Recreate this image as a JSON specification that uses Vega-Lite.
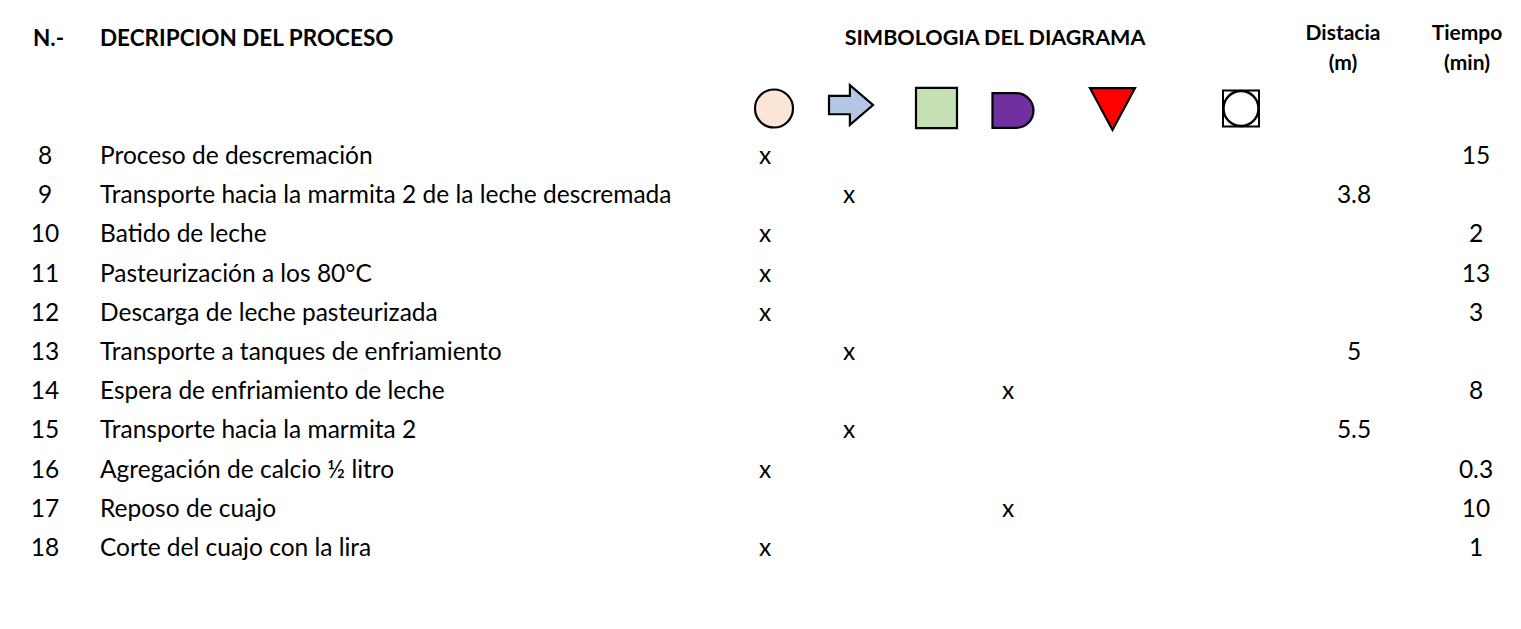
{
  "$schema": "https://vega.github.io/schema/vega-lite/v6.json",
  "width": 1521,
  "height": 629,
  "padding": 0,
  "autosize": {"type": "fit", "contains": "padding"},
  "background": "white",
  "config": {"view": {"stroke": null}, "text": {"font": "Lato", "fontSize": 24.5, "color": "#000000"}},
  "datasets": {
    "filas": [
      {"n": 8, "desc": "Proceso de descremación", "simbolo": "Operación", "dist": null, "tiempo": 15},
      {"n": 9, "desc": "Transporte hacia la marmita 2 de la leche descremada", "simbolo": "Transporte", "dist": 3.8, "tiempo": null},
      {"n": 10, "desc": "Batido de leche", "simbolo": "Operación", "dist": null, "tiempo": 2},
      {"n": 11, "desc": "Pasteurización a los 80°C", "simbolo": "Operación", "dist": null, "tiempo": 13},
      {"n": 12, "desc": "Descarga  de leche pasteurizada", "simbolo": "Operación", "dist": null, "tiempo": 3},
      {"n": 13, "desc": "Transporte a tanques de enfriamiento", "simbolo": "Transporte", "dist": 5, "tiempo": null},
      {"n": 14, "desc": "Espera de enfriamiento de leche", "simbolo": "Demora", "dist": null, "tiempo": 8},
      {"n": 15, "desc": "Transporte hacia la marmita 2", "simbolo": "Transporte", "dist": 5.5, "tiempo": null},
      {"n": 16, "desc": "Agregación de calcio ½ litro", "simbolo": "Operación", "dist": null, "tiempo": 0.3},
      {"n": 17, "desc": "Reposo de cuajo", "simbolo": "Demora", "dist": null, "tiempo": 10},
      {"n": 18, "desc": "Corte del cuajo con la lira", "simbolo": "Operación", "dist": null, "tiempo": 1}
    ],
    "uno": [{"k": 1}]
  },
  "data": {"name": "filas"},
  "encoding": {
    "x": {"type": "quantitative", "scale": {"domain": [0, 1521], "nice": false, "zero": false}, "axis": null},
    "y": {"type": "quantitative", "scale": {"domain": [3.995, 20.04], "nice": false, "zero": false, "reverse": true}, "axis": null}
  },
  "layer": [
    {"data": {"name": "uno"}, "mark": {"type": "text", "text": "N.-", "fontWeight": "bold", "fontSize": 22.5, "align": "left", "baseline": "middle"},
     "encoding": {"x": {"datum": 33, "type": "quantitative"}, "y": {"datum": 4.99, "type": "quantitative"}}},
    {"data": {"name": "uno"}, "mark": {"type": "text", "text": "DECRIPCION DEL PROCESO", "fontWeight": "bold", "fontSize": 22.5, "align": "left", "baseline": "middle"},
     "encoding": {"x": {"datum": 100, "type": "quantitative"}, "y": {"datum": 4.99, "type": "quantitative"}}},
    {"data": {"name": "uno"}, "mark": {"type": "text", "text": "SIMBOLOGIA DEL DIAGRAMA", "fontWeight": "bold", "fontSize": 21.5, "align": "center", "baseline": "middle"},
     "encoding": {"x": {"datum": 995, "type": "quantitative"}, "y": {"datum": 4.99, "type": "quantitative"}}},
    {"data": {"name": "uno"}, "mark": {"type": "text", "text": ["Distacia", "(m)"], "lineHeight": 30, "fontWeight": "bold", "fontSize": 21, "align": "center", "baseline": "middle"},
     "encoding": {"x": {"datum": 1343, "type": "quantitative"}, "y": {"datum": 4.86, "type": "quantitative"}}},
    {"data": {"name": "uno"}, "mark": {"type": "text", "text": ["Tiempo", "(min)"], "lineHeight": 30, "fontWeight": "bold", "fontSize": 21, "align": "center", "baseline": "middle"},
     "encoding": {"x": {"datum": 1467, "type": "quantitative"}, "y": {"datum": 4.86, "type": "quantitative"}}},

    {"data": {"name": "uno"}, "mark": {"type": "point", "shape": "circle", "filled": true, "fill": "#FBE5D6", "stroke": "#000000", "strokeWidth": 2.2, "size": 1444, "opacity": 1},
     "encoding": {"x": {"datum": 774, "type": "quantitative"}, "y": {"datum": 6.763, "type": "quantitative"}}},
    {"data": {"name": "uno"}, "mark": {"type": "point", "shape": "M-1,-0.42L-0.05,-0.42L-0.05,-0.9L1,0L-0.05,0.9L-0.05,0.42L-1,0.42Z", "filled": true, "fill": "#B4C7E7", "stroke": "#000000", "strokeWidth": 2.2, "size": 1936, "opacity": 1},
     "encoding": {"x": {"datum": 851, "type": "quantitative"}, "y": {"datum": 6.674, "type": "quantitative"}}},
    {"data": {"name": "uno"}, "mark": {"type": "point", "shape": "M-1,-0.98L1,-0.98L1,0.98L-1,0.98Z", "filled": true, "fill": "#C5E0B4", "stroke": "#000000", "strokeWidth": 2.2, "size": 1681, "opacity": 1},
     "encoding": {"x": {"datum": 936.5, "type": "quantitative"}, "y": {"datum": 6.75, "type": "quantitative"}}},
    {"data": {"name": "uno"}, "mark": {"type": "point", "shape": "M-1,-0.85L0.15,-0.85A0.85,0.85 0 0 1 0.15,0.85L-1,0.85Z", "filled": true, "fill": "#7030A0", "stroke": "#000000", "strokeWidth": 2.2, "size": 1681, "opacity": 1},
     "encoding": {"x": {"datum": 1013, "type": "quantitative"}, "y": {"datum": 6.814, "type": "quantitative"}}},
    {"data": {"name": "uno"}, "mark": {"type": "point", "shape": "M-1,-0.93L1,-0.93L0,0.93Z", "filled": true, "fill": "#FF0000", "stroke": "#000000", "strokeWidth": 2.2, "size": 2025, "opacity": 1},
     "encoding": {"x": {"datum": 1112.5, "type": "quantitative"}, "y": {"datum": 6.776, "type": "quantitative"}}},
    {"data": {"name": "uno"}, "mark": {"type": "point", "shape": "M-1,-1L1,-1L1,1L-1,1Z", "filled": false, "stroke": "#000000", "strokeWidth": 2, "size": 1296, "opacity": 1},
     "encoding": {"x": {"datum": 1241, "type": "quantitative"}, "y": {"datum": 6.763, "type": "quantitative"}}},
    {"data": {"name": "uno"}, "mark": {"type": "point", "shape": "circle", "filled": true, "fill": "#FFFFFF", "stroke": "#000000", "strokeWidth": 2.4, "size": 1225, "opacity": 1},
     "encoding": {"x": {"datum": 1241, "type": "quantitative"}, "y": {"datum": 6.763, "type": "quantitative"}}},

    {"mark": {"type": "text", "align": "center", "baseline": "middle"},
     "encoding": {"x": {"datum": 45, "type": "quantitative"}, "y": {"field": "n"}, "text": {"field": "n", "type": "quantitative"}}},
    {"mark": {"type": "text", "align": "left", "baseline": "middle"},
     "encoding": {"x": {"datum": 100, "type": "quantitative"}, "y": {"field": "n"}, "text": {"field": "desc", "type": "nominal"}}},
    {"transform": [{"filter": "datum.simbolo === 'Operación'"}],
     "mark": {"type": "text", "text": "x", "align": "center", "baseline": "middle"},
     "encoding": {"x": {"datum": 765, "type": "quantitative"}, "y": {"field": "n"}}},
    {"transform": [{"filter": "datum.simbolo === 'Transporte'"}],
     "mark": {"type": "text", "text": "x", "align": "center", "baseline": "middle"},
     "encoding": {"x": {"datum": 849, "type": "quantitative"}, "y": {"field": "n"}}},
    {"transform": [{"filter": "datum.simbolo === 'Demora'"}],
     "mark": {"type": "text", "text": "x", "align": "center", "baseline": "middle"},
     "encoding": {"x": {"datum": 1008, "type": "quantitative"}, "y": {"field": "n"}}},
    {"transform": [{"filter": "isValid(datum.dist)"}],
     "mark": {"type": "text", "align": "center", "baseline": "middle"},
     "encoding": {"x": {"datum": 1354, "type": "quantitative"}, "y": {"field": "n"}, "text": {"field": "dist", "type": "quantitative"}}},
    {"transform": [{"filter": "isValid(datum.tiempo)"}],
     "mark": {"type": "text", "align": "center", "baseline": "middle"},
     "encoding": {"x": {"datum": 1476, "type": "quantitative"}, "y": {"field": "n"}, "text": {"field": "tiempo", "type": "quantitative"}}}
  ]
}
